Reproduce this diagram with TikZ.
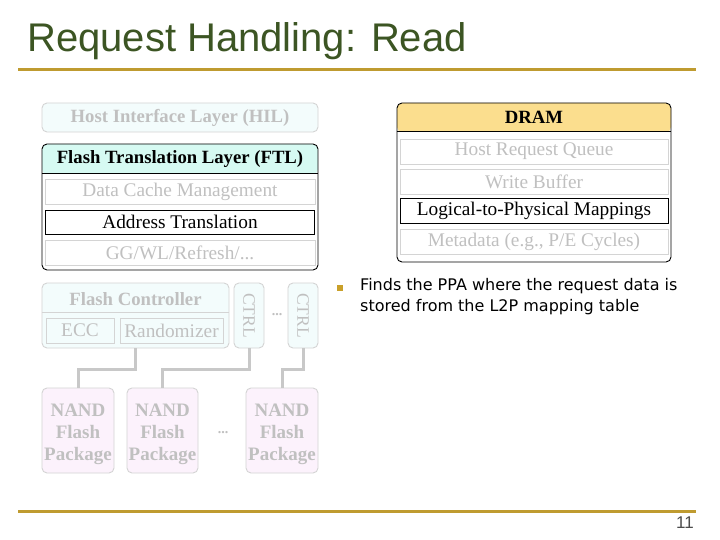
\documentclass[tikz,border=0pt]{standalone}
\usepackage{fontspec}
\setmainfont{Liberation Serif}
\newfontfamily\titlefont{Liberation Sans}
\newfontfamily\bodyfont{DejaVu Sans}
\definecolor{titlegreen}{RGB}{60,85,35}
\definecolor{gold}{RGB}{191,155,48}
\definecolor{bulletgold}{RGB}{201,160,42}
\definecolor{ltxt}{RGB}{192,192,192}
\definecolor{lbord}{RGB}{212,212,212}
\definecolor{faintcyan}{RGB}{243,252,252}
\definecolor{ftlfill}{RGB}{214,250,242}
\definecolor{dramfill}{RGB}{251,222,142}
\definecolor{nandfill}{RGB}{252,242,252}
\definecolor{wire}{RGB}{200,200,200}
\tikzset{
  sub/.style={draw=lbord, line width=0.9pt, inner sep=0pt, text=ltxt, font=\fontsize{19.3}{19.3}\selectfont, minimum height=25pt},
  subon/.style={draw=black, line width=0.9pt, inner sep=0pt, text=black, font=\fontsize{19.3}{19.3}\selectfont, minimum height=25pt},
  hdr/.style={inner sep=0pt, font=\bfseries\fontsize{18.7}{18.7}\selectfont},
  outer/.style={draw=black, line width=0.9pt, rounded corners=5pt, inner sep=0pt},
  faintbox/.style={draw=lbord, line width=0.9pt, rounded corners=5pt, inner sep=0pt, fill=faintcyan},
  nand/.style={draw=lbord, line width=0.9pt, rounded corners=5pt, inner sep=0pt, fill=nandfill, minimum height=85pt},
  nandtext/.style={inner sep=0pt, text=ltxt, font=\bfseries\fontsize{19}{22}\selectfont, align=center},
  wireline/.style={draw=wire, line width=3pt},
}
\begin{document}
\begin{tikzpicture}[x=1pt,y=-1pt]
\useasboundingbox (0,0) rectangle (720,540);
\fill[white] (0,0) rectangle (720,540);
% title
\node[anchor=base west, inner sep=0pt, text=titlegreen, font=\titlefont\fontsize{40}{40}\selectfont] (title) at (27,52) {Request Handling: Read};
\coordinate (tl1) at (18,70); \coordinate (tl2) at (696,70);
\draw[gold, line width=3pt] (tl1) -- (tl2);
\coordinate (bl1) at (18,511); \coordinate (bl2) at (696,511);
\draw[gold, line width=3pt] (bl1) -- (bl2);
\node[anchor=base east, inner sep=0pt, text=black!70, font=\titlefont\fontsize{17}{17}\selectfont] (pnum) at (694,528) {11};

% HIL
\node[faintbox, minimum width=276pt, minimum height=29pt, text=ltxt, font=\bfseries\fontsize{18.7}{18.7}\selectfont] (hil) at (180,117.5) {Host Interface Layer (HIL)};

% FTL
\node[outer, minimum width=276pt, minimum height=126pt,
  path picture={\fill[ftlfill] (path picture bounding box.north west) rectangle ([yshift=-30pt]path picture bounding box.north east);}] (ftl) at (180,207) {};
\draw[black, line width=0.9pt] ([yshift=-30pt]ftl.north west) -- ([yshift=-30pt]ftl.north east);
\node[hdr] (ftlh) at (180,159) {Flash Translation Layer (FTL)};
\node[sub, minimum width=270pt] (dcm) at (180,191.5) {Data Cache Management};
\node[subon, minimum width=269pt, minimum height=24pt] (at) at (180,222) {Address Translation};
\node[sub, minimum width=270pt] (gg) at (180,252.5) {GG/WL/Refresh/...};

% DRAM
\node[outer, minimum width=274pt, minimum height=159pt,
  path picture={\fill[dramfill] (path picture bounding box.north west) rectangle ([yshift=-29pt]path picture bounding box.north east);}] (dram) at (534,182.5) {};
\draw[black, line width=0.9pt] ([yshift=-29pt]dram.north west) -- ([yshift=-29pt]dram.north east);
\node[hdr] (dramh) at (534,117.5) {DRAM};
\node[sub, minimum width=268pt] (hrq) at (534,151.5) {Host Request Queue};
\node[sub, minimum width=268pt] (wb) at (534,181.5) {Write Buffer};
\node[subon, minimum width=268pt] (l2p) at (534,211) {Logical-to-Physical Mappings};
\node[sub, minimum width=268pt] (md) at (534,241.5) {Metadata (e.g., P/E Cycles)};

% Flash controller
\node[faintbox, minimum width=187pt, minimum height=65pt] (fc) at (135.5,315.5) {};
\draw[lbord, line width=0.9pt] ([yshift=-30pt]fc.north west) -- ([yshift=-30pt]fc.north east);
\node[hdr, text=ltxt] (fch) at (135.5,299) {Flash Controller};
\node[sub, minimum width=68pt] (ecc) at (80,330.5) {ECC};
\node[sub, minimum width=103pt] (rand) at (171.5,330.5) {Randomizer};
\node[faintbox, minimum width=30pt, minimum height=65pt] (ctrl1) at (249,315.5) {};
\node[rotate=-90, text=ltxt, inner sep=0pt, font=\fontsize{17.5}{17.5}\selectfont] (ctrl1t) at (ctrl1.center) {CTRL};
\node[text=ltxt, inner sep=0pt, font=\bfseries\fontsize{14}{14}\selectfont] (cdots) at (277,315) {...};
\node[faintbox, minimum width=30pt, minimum height=65pt] (ctrl2) at (303,315.5) {};
\node[rotate=-90, text=ltxt, inner sep=0pt, font=\fontsize{17.5}{17.5}\selectfont] (ctrl2t) at (ctrl2.center) {CTRL};

% NAND packages
\node[nand, minimum width=72pt] (n1) at (78,430.5) {};
\node[nandtext] (n1t) at ([yshift=-3.5pt]n1.center) {NAND\\Flash\\Package};
\node[nand, minimum width=71pt] (n2) at (162.5,430.5) {};
\node[nandtext] (n2t) at ([yshift=-3.5pt]n2.center) {NAND\\Flash\\Package};
\node[nand, minimum width=72pt] (n3) at (282,430.5) {};
\node[nandtext] (n3t) at ([yshift=-3.5pt]n3.center) {NAND\\Flash\\Package};
\node[text=ltxt, inner sep=0pt, font=\bfseries\fontsize{14}{14}\selectfont] (ndots) at (223,433) {...};

% wires
\draw[wireline] (fc.south) -- ++(0,21) -| (n1.north);
\draw[wireline] (ctrl1.south) -- ++(0,21) -| (n2.north);
\draw[wireline] (ctrl2.south) -- ++(0,21) -| (n3.north);

% bullet
\node[fill=bulletgold, minimum size=6pt, inner sep=0pt] (bul) at (340,288) {};
\node[anchor=base west, inner sep=0pt, font=\bodyfont\fontsize{16}{16}\selectfont] (btext1) at (360,290) {Finds the PPA where the request data is};
\node[anchor=base west, inner sep=0pt, font=\bodyfont\fontsize{16}{16}\selectfont] (btext2) at (360,311) {stored from the L2P mapping table};
\end{tikzpicture}
\end{document}
